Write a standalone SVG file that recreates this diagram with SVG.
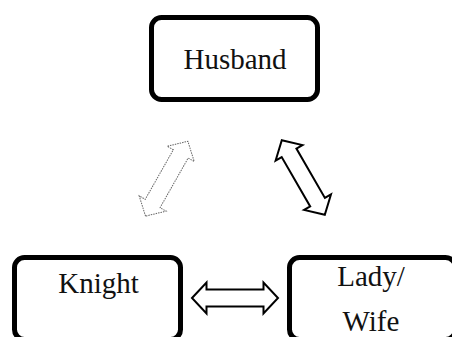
<svg xmlns="http://www.w3.org/2000/svg" width="452" height="337" viewBox="0 0 452 337">
<defs>
<style>
.box{fill:#fff;stroke:#000;stroke-width:5}
.lbl{font-family:"Liberation Serif","Times New Roman",serif;font-size:29px;fill:#111;text-anchor:middle}
.arr{fill:#fff;stroke:#000;stroke-width:2;stroke-linejoin:miter}
.arr-dot{fill:#fff;stroke:#666;stroke-width:1;stroke-dasharray:1.5 1}
</style>
<path id="dbl" d="M-43,0 L-28.5,-15.5 L-28.5,-8.5 L28.5,-8.5 L28.5,-15.5 L43,0 L28.5,15.5 L28.5,8.5 L-28.5,8.5 L-28.5,15.5 Z"/>
</defs>
<rect width="452" height="337" fill="#fff"/>
<g id="connectors">
<use href="#dbl" class="arr-dot" transform="translate(166.7,178.7) rotate(-60.5)"/>
<use href="#dbl" class="arr" transform="translate(303.3,177.5) rotate(60)"/>
<use href="#dbl" class="arr" transform="translate(235,298)"/>
</g>
<g id="husband">
<rect class="box" x="151.5" y="17.5" width="166" height="82" rx="10"/>
<text class="lbl" x="235" y="69">Husband</text>
</g>
<g id="knight">
<rect class="box" x="14.5" y="257.5" width="166" height="82" rx="10"/>
<text class="lbl" x="98.5" y="293">Knight</text>
</g>
<g id="lady">
<rect class="box" x="289.5" y="257.5" width="166" height="82" rx="10"/>
<text class="lbl" x="371" y="286">Lady/</text>
<text class="lbl" x="371" y="331">Wife</text>
</g>
</svg>
